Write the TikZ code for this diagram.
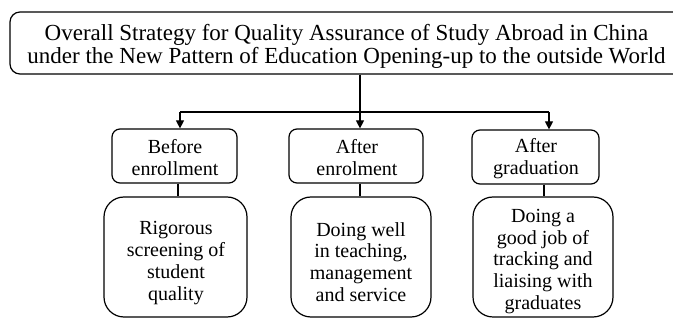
\documentclass[tikz,border=0pt]{standalone}
\usepackage{fontspec}
\setmainfont{Liberation Serif}
\usetikzlibrary{arrows.meta}
\begin{document}
\begin{tikzpicture}[x=1pt,y=1pt,
  every node/.style={inner sep=0pt,align=center},
  frame/.style={draw,line width=1.2pt},
  topbox/.style={frame,rounded corners=10pt,minimum width=700pt,minimum height=62pt},
  phasebox/.style={frame,rounded corners=8pt,minimum height=54pt},
  taskbox/.style={frame,rounded corners=20pt,minimum height=120pt},
  toptext/.style={font=\fontsize{23}{23}\selectfont},
  phasetext/.style={font=\fontsize{20}{22}\selectfont},
  tasktext/.style={font=\fontsize{20}{21.7}\selectfont},
  link/.style={line width=1.2pt},
  arrow/.style={link,-{Triangle[length=8pt,width=8pt]}}]
\clip (0,0) rectangle (673,-320);
\useasboundingbox (0,0) rectangle (673,-320);

% overall strategy (frame runs on past the right margin)
\node[topbox] (top) at (360,-43) {};
\node[toptext] (toptxt) at (346.5,-46)
  {Overall Strategy for Quality Assurance of Study Abroad in China\\
   under the New Pattern of Education Opening-up to the outside World};

% three phases
\node[phasebox,minimum width=125pt] (b1) at (174.5,-156) {};
\node[phasebox,minimum width=134pt] (b2) at (356,-156) {};
\node[phasebox,minimum width=127pt] (b3) at (535.5,-157) {};
\node[phasetext] (t1) at (175,-158) {Before\\enrollment};
\node[phasetext] (t2) at (357,-158) {After\\enrolment};
\node[phasetext] (t3) at (536,-159) {After\\graduation};

% tasks of each phase
\node[taskbox,minimum width=143pt] (c1) at (175.5,-257) {};
\node[taskbox,minimum width=140pt] (c2) at (361,-257) {};
\node[taskbox,minimum width=140pt] (c3) at (543,-257) {};
\node[tasktext] (s1) at (176,-263) {Rigorous\\screening of\\student\\quality};
\node[tasktext] (s2) at (361,-262) {Doing well\\in teaching,\\management\\and service};
\node[tasktext] (s3) at (543,-261.5)
  {Doing a\\good job of\\tracking and\\liaising with\\graduates};

% branching connectors
\coordinate (a1) at (180,-112);
\coordinate (a2) at (360,-112);
\coordinate (a3) at (549,-112);
\draw[link] (top.south -| a2) -- (a2);
\draw[link] (a1) -- (a3);
\draw[arrow] (a1) -- (b1.north -| a1);
\draw[arrow] (a2) -- (b2.north -| a2);
\draw[arrow] (a3) -- (b3.north -| a3);

% phase to task links
\coordinate (l1) at (178,0);
\coordinate (l2) at (360,0);
\coordinate (l3) at (544,0);
\draw[link] (b1.south -| l1) -- (c1.north -| l1);
\draw[link] (b2.south -| l2) -- (c2.north -| l2);
\draw[link] (b3.south -| l3) -- (c3.north -| l3);
\end{tikzpicture}
\end{document}
